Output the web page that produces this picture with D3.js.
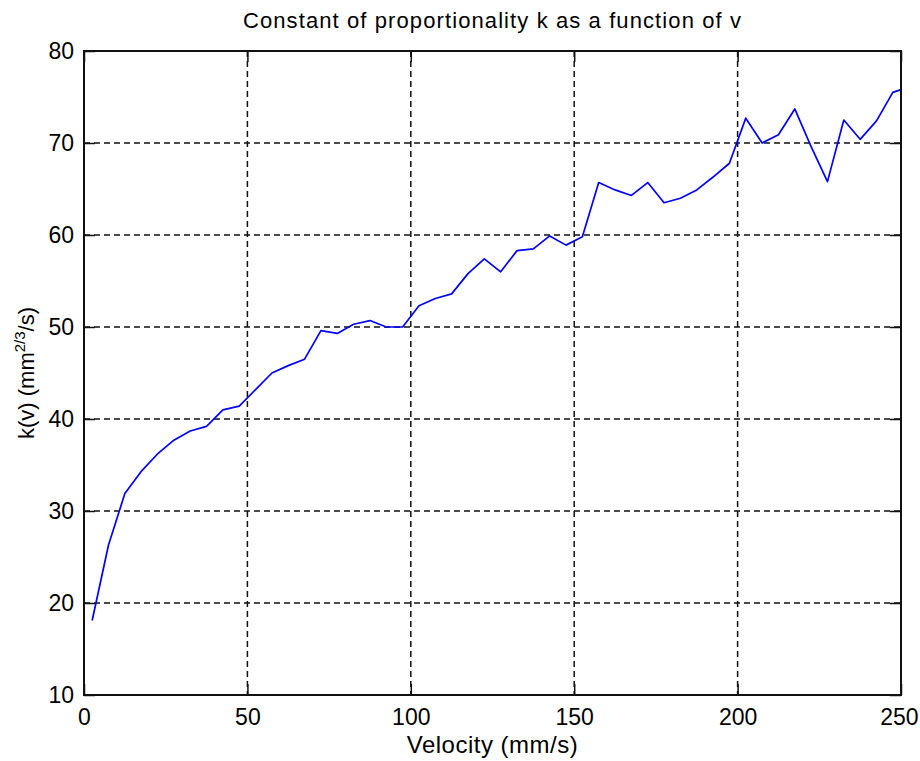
<!DOCTYPE html>
<html>
<head>
<meta charset="utf-8">
<script src="https://cdn.jsdelivr.net/npm/d3@7"></script>
<style>
  html, body { margin: 0; padding: 0; background: #fff; }
  svg { display: block; }
  text { font-family: "Liberation Sans", Arial, sans-serif; fill: #000; }
</style>
</head>
<body>
<svg id="chart" width="920" height="761"></svg>
<script>
// Measured k(v) values against velocity
const velocity = [2.5, 7.5, 12.5, 17.5, 22.5, 27.5, 32.5, 37.5, 42.5, 47.5,
  52.5, 57.5, 62.5, 67.5, 72.5, 77.5, 82.5, 87.5, 92.5, 97.5,
  102.5, 107.5, 112.5, 117.5, 122.5, 127.5, 132.5, 137.5, 142.5, 147.5,
  152.5, 157.5, 162.5, 167.5, 172.5, 177.5, 182.5, 187.5, 192.5, 197.5,
  202.5, 207.5, 212.5, 217.5, 222.5, 227.5, 232.5, 237.5, 242.5, 247.5, 250];
const kValues = [18.1, 26.3, 31.9, 34.3, 36.2, 37.7, 38.7, 39.2, 41.0, 41.4,
  43.2, 45.0, 45.8, 46.5, 49.6, 49.3, 50.3, 50.7, 50.0, 50.0,
  52.3, 53.1, 53.6, 55.8, 57.4, 56.0, 58.3, 58.5, 59.9, 58.9,
  59.8, 65.7, 64.9, 64.3, 65.7, 63.5, 64.0, 64.9, 66.3, 67.8,
  72.7, 70.0, 70.9, 73.7, 69.6, 65.8, 72.5, 70.4, 72.4, 75.5, 75.8];
const xTicks = [0, 50, 100, 150, 200, 250];
const yTicks = [10, 20, 30, 40, 50, 60, 70, 80];

const titleText = "Constant of proportionality k as a function of v";
const xLabel = "Velocity (mm/s)";

const svg = d3.select("#chart");
const W = 920, H = 761;
const margin = { top: 51, right: 19, bottom: 66, left: 84 };
const iw = W - margin.left - margin.right;
const ih = H - margin.top - margin.bottom;

svg.append("rect").attr("width", W).attr("height", H).attr("fill", "#fff");

const x = d3.scaleLinear().domain([0, 250]).range([0, iw]);
const y = d3.scaleLinear().domain([10, 80]).range([ih, 0]);

const g = svg.append("g").attr("transform", `translate(${margin.left},${margin.top})`);

// dashed grid
g.append("g").selectAll("line").data(xTicks.slice(1, -1)).join("line")
  .attr("x1", d => x(d)).attr("x2", d => x(d))
  .attr("y1", 0).attr("y2", ih)
  .attr("stroke", "#111").attr("stroke-width", 1.5).attr("stroke-dasharray", "6,4");
g.append("g").selectAll("line").data(yTicks.slice(1, -1)).join("line")
  .attr("x1", 0).attr("x2", iw)
  .attr("y1", d => y(d)).attr("y2", d => y(d))
  .attr("stroke", "#111").attr("stroke-width", 1.5).attr("stroke-dasharray", "6,4");

// data line
const line = d3.line().x((d, i) => x(velocity[i])).y(d => y(d));
g.append("path").datum(kValues)
  .attr("d", line)
  .attr("fill", "none").attr("stroke", "#0000ff").attr("stroke-width", 1.7)
  .attr("stroke-linejoin", "round");

// axes with inward ticks
const tick = 11;
const axB = g.append("g").attr("transform", `translate(0,${ih})`)
  .call(d3.axisBottom(x).tickValues(xTicks).tickSize(-tick).tickPadding(14).tickFormat(d3.format("d")));
const axT = g.append("g")
  .call(d3.axisTop(x).tickValues(xTicks).tickSize(-tick).tickFormat(""));
const axL = g.append("g")
  .call(d3.axisLeft(y).tickValues(yTicks).tickSize(-tick).tickPadding(10).tickFormat(d3.format("d")));
const axR = g.append("g").attr("transform", `translate(${iw},0)`)
  .call(d3.axisRight(y).tickValues(yTicks).tickSize(-tick).tickFormat(""));

[axB, axT, axL, axR].forEach(a => {
  a.select(".domain").remove();
  a.selectAll(".tick line").attr("stroke", "#111").attr("stroke-width", 1.5);
  a.selectAll("text").attr("font-size", 23).attr("font-family", "Liberation Sans, Arial, sans-serif").attr("fill", "#000");
});
// keep the last x tick label inside the figure edge
axB.selectAll(".tick text").filter(d => d === 250).attr("text-anchor", "end").attr("dx", 17);

// axes box
g.append("rect").attr("x", 0).attr("y", 0).attr("width", iw).attr("height", ih)
  .attr("fill", "none").attr("stroke", "#111").attr("stroke-width", 2);

// title
svg.append("text")
  .attr("x", margin.left + iw / 2).attr("y", 28)
  .attr("text-anchor", "middle").attr("font-size", 22)
  .attr("letter-spacing", 1.1)
  .text(titleText);

// x label
svg.append("text")
  .attr("x", margin.left + iw / 2).attr("y", 753)
  .attr("text-anchor", "middle").attr("font-size", 24)
  .attr("letter-spacing", 0.5)
  .text(xLabel);

// y label with superscript exponent
const yl = svg.append("text")
  .attr("transform", `translate(34,${margin.top + ih / 2}) rotate(-90)`)
  .attr("text-anchor", "middle").attr("font-size", 22);
yl.append("tspan").text("k(v) (mm");
yl.append("tspan").attr("font-size", 15).attr("dy", -9).text("2/3");
yl.append("tspan").attr("dy", 9).text("/s)");
</script>
</body>
</html>
